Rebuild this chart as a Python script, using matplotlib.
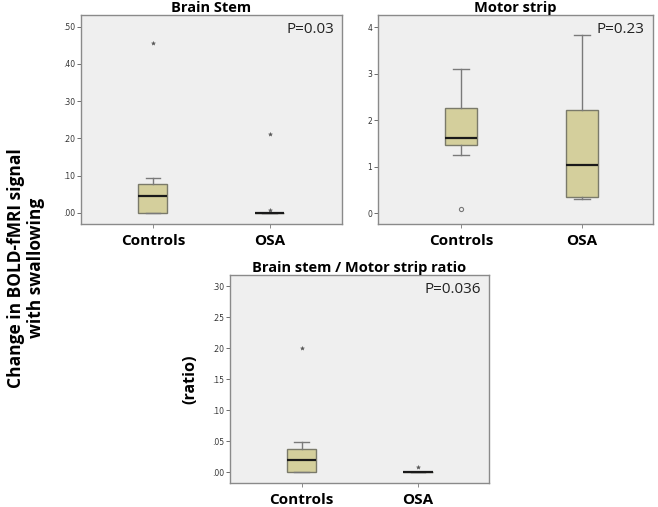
import matplotlib
matplotlib.use('Agg')
import matplotlib.pyplot as plt
from matplotlib.ticker import FuncFormatter

# group names
groups = ['Controls', 'OSA']

# Brain stem: [lower whisker, q1, median, q3, upper whisker], outliers
bs_stats = [[0.0, 0.0, 0.046, 0.078, 0.0925], [0.0, 0.0, 0.0, 0.0, 0.0]]
bs_fliers = [[0.456], [0.211, 0.007]]
bs_ticks = [0.0, 0.1, 0.2, 0.3, 0.4, 0.5]

# Motor strip
ms_stats = [[1.26, 1.47, 1.62, 2.26, 3.09], [0.30, 0.35, 1.03, 2.22, 3.83]]
ms_fliers = [[0.09], []]
ms_ticks = [0, 1, 2, 3, 4]

# Ratio
rt_stats = [[0.0, 0.0, 0.0205, 0.0377, 0.0495], [0.0, 0.0, 0.0, 0.0, 0.0]]
rt_fliers = [[0.201], [0.008]]
rt_ticks = [0.0, 0.05, 0.10, 0.15, 0.20, 0.25, 0.30]

FONT = 'Open Sans'
W, H = 658, 507
fig = plt.figure(figsize=(W / 100, H / 100), dpi=100)

def px_axes(l, t, r, b):
    return fig.add_axes([l / W, (H - b) / H, (r - l) / W, (b - t) / H])

def draw(ax, stats, fliers, ticks, ylim, xlim, fmt, title, ptxt, flier_marker, width):
    ax.set_facecolor('#efefef')
    bx = []
    for i, s in enumerate(stats):
        bx.append(dict(whislo=s[0], q1=s[1], med=s[2], q3=s[3], whishi=s[4],
                       fliers=[], label=groups[i]))
    ax.bxp(bx, positions=[1, 2], widths=width, patch_artist=True,
           showfliers=False,
           boxprops=dict(facecolor='#d4cf9c', edgecolor='#7a7a6a', linewidth=1.0),
           medianprops=dict(color='#1a1a1a', linewidth=1.6),
           whiskerprops=dict(color='#7a7a7a', linewidth=1.0),
           capprops=dict(color='#7a7a7a', linewidth=1.0))
    for i, fl in enumerate(fliers):
        if not fl:
            continue
        if flier_marker == 'o':
            ax.plot([i + 1] * len(fl), fl, 'o', ms=3, mfc='none', mec='#777777', mew=0.8)
        else:
            ax.plot([i + 1] * len(fl), fl, '*', ms=3, color='#555555', mew=0.3)
    ax.set_ylim(*ylim)
    ax.set_xlim(*xlim)
    ax.set_yticks(ticks)
    ax.yaxis.set_major_formatter(FuncFormatter(fmt))
    ax.set_xticks([1, 2])
    ax.set_xticklabels(groups, fontsize=11, fontweight='bold', family=FONT)
    ax.tick_params(axis='y', length=3, width=0.6, color='#555555', labelsize=5.5,
                   labelcolor='#333333', pad=1)
    ax.tick_params(axis='x', length=3, width=0.6, color='#777777', pad=4)
    for sp in ax.spines.values():
        sp.set_color('#8a8a8a')
        sp.set_linewidth(1.0)
    ax.set_title(title, fontsize=10.5, fontweight='bold', family=FONT, pad=1)
    ax.text(0.97, 0.965, ptxt, transform=ax.transAxes, ha='right', va='top',
            fontsize=11, family=FONT, color='#222222')

def dec2(v, pos):
    return ('%.2f' % v).lstrip('0')

def integer(v, pos):
    return '%d' % v

ax1 = px_axes(81, 15, 342, 224)
draw(ax1, bs_stats, bs_fliers, bs_ticks, (-0.03, 0.531), (0.385, 2.62), dec2,
     'Brain Stem', 'P=0.03', '*', 0.25)

ax2 = px_axes(378, 15, 653, 224)
draw(ax2, ms_stats, ms_fliers, ms_ticks, (-0.23, 4.26), (0.312, 2.59), integer,
     'Motor strip', 'P=0.23', 'o', 0.265)

ax3 = px_axes(230, 275, 489, 483)
draw(ax3, rt_stats, rt_fliers, rt_ticks, (-0.017, 0.318), (0.386, 2.61), dec2,
     'Brain stem / Motor strip ratio', 'P=0.036', '*', 0.25)

ax3.set_ylabel('(ratio)', fontsize=11.5, fontweight='bold', family=FONT, labelpad=10)

fig.text(26 / W, 1 - 268 / H, 'Change in BOLD-fMRI signal\nwith swallowing',
         rotation=90, ha='center', va='center', fontsize=12.5, fontweight='bold',
         family=FONT, linespacing=1.15)

fig.savefig('out.png', dpi=100)
